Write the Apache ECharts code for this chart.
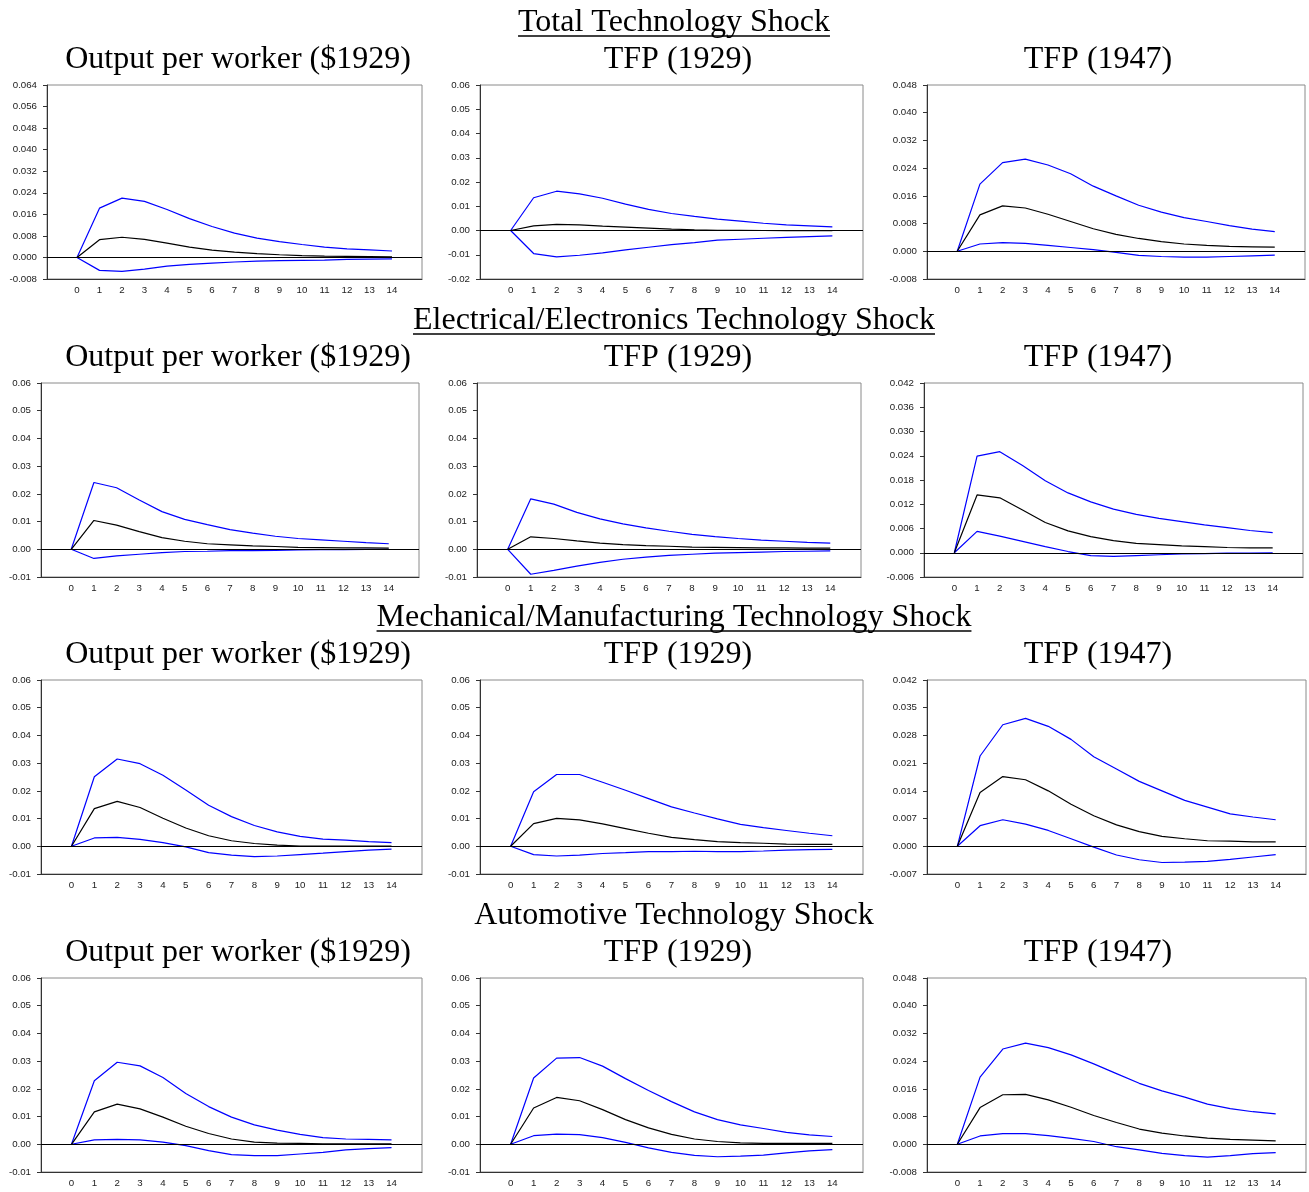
<!DOCTYPE html>
<html>
<head>
<meta charset="utf-8">
<script src="https://cdn.jsdelivr.net/npm/echarts@6/dist/echarts.min.js"></script>
<style>
html,body{margin:0;padding:0;background:#fff;}
#c{width:1309px;height:1192px;}
</style>
</head>
<body>
<div id="c"></div>
<script>
// ---------- DATA ----------
const steps = [0,1,2,3,4,5,6,7,8,9,10,11,12,13,14];

const shockTitles = ["Total Technology Shock","Electrical/Electronics Technology Shock","Mechanical/Manufacturing Technology Shock","Automotive Technology Shock"];
const shockUnderlined = [true, true, true, false];
const panelTitles = ["Output per worker ($1929)","TFP (1929)","TFP (1947)"];

// y-axis tick settings per panel (row-major)
const yMins      = [-0.008,-0.02,-0.008, -0.01,-0.01,-0.006, -0.01,-0.01,-0.007, -0.01,-0.01,-0.008];
const yMaxs      = [ 0.064, 0.06, 0.048,  0.06, 0.06, 0.042,  0.06, 0.06, 0.042,  0.06, 0.06, 0.048];
const yIntervals = [ 0.008, 0.01, 0.008,  0.01, 0.01, 0.006,  0.01, 0.01, 0.007,  0.01, 0.01, 0.008];
const yDecimals  = [3,2,3, 2,2,3, 2,2,3, 2,2,3];

// Total technology shock
const totOutUp  = [0,0.0183,0.0220,0.0208,0.0178,0.0144,0.0115,0.0090,0.0072,0.0059,0.0048,0.0038,0.0032,0.0028,0.0024];
const totOutMid = [0,0.0066,0.0075,0.0067,0.0053,0.0038,0.0027,0.0020,0.0014,0.0010,0.0007,0.0005,0.0004,0.0003,0.0002];
const totOutLo  = [0,-0.0048,-0.0052,-0.0043,-0.0032,-0.0026,-0.0021,-0.0017,-0.0014,-0.0012,-0.0011,-0.0010,-0.0007,-0.0006,-0.0005];
const totT29Up  = [0,0.0135,0.0162,0.0151,0.0133,0.0109,0.0087,0.0070,0.0058,0.0047,0.0039,0.0030,0.0023,0.0019,0.0015];
const totT29Mid = [0,0.0019,0.0025,0.0023,0.0018,0.0014,0.0010,0.0006,0.0003,0.0001,0.0001,0.0000,-0.0001,-0.0001,-0.0001];
const totT29Lo  = [0,-0.0095,-0.0109,-0.0102,-0.0092,-0.0080,-0.0069,-0.0058,-0.0050,-0.0040,-0.0036,-0.0032,-0.0028,-0.0025,-0.0022];
const totT47Up  = [0,0.0194,0.0256,0.0266,0.0249,0.0224,0.0188,0.0160,0.0133,0.0113,0.0097,0.0086,0.0074,0.0064,0.0057];
const totT47Mid = [0,0.0105,0.0131,0.0125,0.0107,0.0086,0.0065,0.0049,0.0037,0.0028,0.0021,0.0017,0.0014,0.0013,0.0012];
const totT47Lo  = [0,0.0021,0.0025,0.0023,0.0017,0.0011,0.0005,-0.0003,-0.0012,-0.0015,-0.0017,-0.0017,-0.0015,-0.0013,-0.0011];

// Electrical / electronics
const eleOutUp  = [0,0.0241,0.0222,0.0178,0.0136,0.0108,0.0089,0.0071,0.0058,0.0047,0.0039,0.0034,0.0029,0.0024,0.0020];
const eleOutMid = [0,0.0104,0.0087,0.0064,0.0042,0.0029,0.0020,0.0016,0.0012,0.0010,0.0007,0.0006,0.0005,0.0005,0.0004];
const eleOutLo  = [0,-0.0033,-0.0024,-0.0018,-0.0012,-0.0008,-0.0007,-0.0005,-0.0005,-0.0004,-0.0002,-0.0001,-0.0001,0.0000,0.0000];
const eleT29Up  = [0,0.0182,0.0163,0.0133,0.0110,0.0092,0.0077,0.0065,0.0054,0.0046,0.0039,0.0033,0.0029,0.0025,0.0022];
const eleT29Mid = [0,0.0045,0.0039,0.0030,0.0022,0.0017,0.0013,0.0011,0.0008,0.0007,0.0006,0.0005,0.0005,0.0004,0.0004];
const eleT29Lo  = [0,-0.0090,-0.0076,-0.0061,-0.0047,-0.0036,-0.0028,-0.0022,-0.0018,-0.0014,-0.0012,-0.0010,-0.0008,-0.0007,-0.0006];
const eleT47Up  = [0,0.0239,0.0250,0.0216,0.0178,0.0148,0.0126,0.0108,0.0095,0.0085,0.0077,0.0069,0.0062,0.0055,0.0050];
const eleT47Mid = [0,0.0143,0.0136,0.0106,0.0075,0.0054,0.0040,0.0030,0.0023,0.0020,0.0017,0.0015,0.0013,0.0012,0.0012];
const eleT47Lo  = [0,0.0053,0.0041,0.0028,0.0015,0.0003,-0.0007,-0.0009,-0.0007,-0.0005,-0.0003,-0.0002,-0.0001,-0.0001,0.0000];

// Mechanical / manufacturing
const mecOutUp  = [0,0.0251,0.0315,0.0298,0.0256,0.0203,0.0148,0.0107,0.0075,0.0052,0.0036,0.0026,0.0022,0.0017,0.0013];
const mecOutMid = [0,0.0136,0.0162,0.0140,0.0101,0.0066,0.0038,0.0020,0.0010,0.0004,0.0001,0.0001,0.0001,0.0001,0.0001];
const mecOutLo  = [0,0.0030,0.0032,0.0025,0.0013,-0.0002,-0.0023,-0.0032,-0.0037,-0.0035,-0.0030,-0.0025,-0.0019,-0.0014,-0.0010];
const mecT29Up  = [0,0.0197,0.0259,0.0259,0.0231,0.0202,0.0172,0.0142,0.0120,0.0099,0.0079,0.0067,0.0057,0.0047,0.0038];
const mecT29Mid = [0,0.0082,0.0101,0.0095,0.0081,0.0064,0.0047,0.0032,0.0024,0.0017,0.0013,0.0011,0.0008,0.0007,0.0007];
const mecT29Lo  = [0,-0.0030,-0.0035,-0.0032,-0.0026,-0.0023,-0.0019,-0.0019,-0.0018,-0.0019,-0.0019,-0.0017,-0.0014,-0.0012,-0.0011];
const mecT47Up  = [0,0.0228,0.0307,0.0323,0.0303,0.0270,0.0226,0.0195,0.0164,0.0140,0.0116,0.0099,0.0082,0.0074,0.0067];
const mecT47Mid = [0,0.0136,0.0176,0.0168,0.0140,0.0106,0.0077,0.0054,0.0037,0.0025,0.0019,0.0014,0.0013,0.0011,0.0011];
const mecT47Lo  = [0,0.0052,0.0067,0.0056,0.0040,0.0019,-0.0002,-0.0022,-0.0034,-0.0041,-0.0040,-0.0038,-0.0033,-0.0027,-0.0021];

// Automotive
const autOutUp  = [0,0.0229,0.0296,0.0283,0.0241,0.0183,0.0136,0.0098,0.0070,0.0051,0.0036,0.0024,0.0019,0.0018,0.0016];
const autOutMid = [0,0.0117,0.0145,0.0128,0.0098,0.0065,0.0039,0.0019,0.0008,0.0004,0.0003,0.0002,0.0002,0.0002,0.0002];
const autOutLo  = [0,0.0016,0.0018,0.0016,0.0008,-0.0005,-0.0023,-0.0037,-0.0041,-0.0041,-0.0035,-0.0029,-0.0020,-0.0016,-0.0012];
const autT29Up  = [0,0.0239,0.0311,0.0313,0.0282,0.0237,0.0194,0.0154,0.0117,0.0089,0.0070,0.0057,0.0043,0.0034,0.0028];
const autT29Mid = [0,0.0131,0.0169,0.0157,0.0125,0.0089,0.0059,0.0036,0.0019,0.0010,0.0005,0.0003,0.0003,0.0003,0.0003];
const autT29Lo  = [0,0.0031,0.0037,0.0035,0.0024,0.0007,-0.0013,-0.0029,-0.0040,-0.0045,-0.0043,-0.0039,-0.0031,-0.0024,-0.0019];
const autT47Up  = [0,0.0194,0.0275,0.0292,0.0279,0.0258,0.0232,0.0204,0.0176,0.0154,0.0136,0.0116,0.0103,0.0094,0.0088];
const autT47Mid = [0,0.0106,0.0143,0.0144,0.0128,0.0107,0.0083,0.0063,0.0044,0.0032,0.0024,0.0018,0.0014,0.0012,0.0010];
const autT47Lo  = [0,0.0024,0.0031,0.0031,0.0025,0.0017,0.0008,-0.0007,-0.0016,-0.0026,-0.0033,-0.0037,-0.0033,-0.0027,-0.0024];

const panelBands = [
  [totOutUp,totOutMid,totOutLo],[totT29Up,totT29Mid,totT29Lo],[totT47Up,totT47Mid,totT47Lo],
  [eleOutUp,eleOutMid,eleOutLo],[eleT29Up,eleT29Mid,eleT29Lo],[eleT47Up,eleT47Mid,eleT47Lo],
  [mecOutUp,mecOutMid,mecOutLo],[mecT29Up,mecT29Mid,mecT29Lo],[mecT47Up,mecT47Mid,mecT47Lo],
  [autOutUp,autOutMid,autOutLo],[autT29Up,autT29Mid,autT29Lo],[autT47Up,autT47Mid,autT47Lo]
];

// ---------- LAYOUT ----------
const rowTops = [85, 383, 680, 978];
const rowHeights = [194, 194, 194, 194];
const colBounds = [
  [[47,422],[480,863],[927,1305]],
  [[41,419],[477,861],[924,1303]],
  [[41,422],[480,863],[927,1306]],
  [[41,422],[480,863],[927,1306]]
];
const rowTitleY = [23, 321, 618, 916];
const subTitleY = [60, 358, 655, 953];
const subTitleX = [238, 678, 1098];

const chart = echarts.init(document.getElementById('c'), null, {renderer:'canvas'});

const grid = [], xAxis = [], yAxis = [], series = [], graphic = [];
const titleFont = '"Liberation Serif","Times New Roman",serif';
const labelFont = '"Liberation Sans",Arial,sans-serif';

const mctx = document.createElement('canvas').getContext('2d');
mctx.font = '32px ' + titleFont;

for (let r = 0; r < 4; r++) {
  graphic.push({type:'text', x:674, y:rowTitleY[r], style:{text:shockTitles[r], font:'32px '+titleFont, fill:'#000', textAlign:'center', textVerticalAlign:'middle'}});
  if (shockUnderlined[r]) {
    const w = mctx.measureText(shockTitles[r]).width;
    graphic.push({type:'line', shape:{x1:674-w/2, y1:rowTitleY[r]+13, x2:674+w/2, y2:rowTitleY[r]+13}, style:{stroke:'#000', lineWidth:1.5}});
  }
  for (let c = 0; c < 3; c++) {
    graphic.push({type:'text', x:subTitleX[c], y:subTitleY[r], style:{text:panelTitles[c], font:'32px '+titleFont, fill:'#000', textAlign:'center', textVerticalAlign:'middle'}});
    const i = r*3 + c;
    const [L, R] = colBounds[r][c];
    grid.push({left:L, top:rowTops[r], width:R-L, height:rowHeights[r], show:true, borderColor:'#8a8a8a', borderWidth:1, backgroundColor:'transparent'});
    xAxis.push({
      type:'value', gridIndex:i, min:-4/3, max:14+4/3,
      axisLine:{onZero:false, lineStyle:{color:'#333', width:1}},
      axisTick:{show:false},
      splitLine:{show:false},
      axisLabel:{customValues:steps, fontSize:9.7, fontFamily:labelFont, color:'#222', margin:6}
    });
    const dec = yDecimals[i];
    yAxis.push({
      type:'value', gridIndex:i, min:yMins[i], max:yMaxs[i], interval:yIntervals[i],
      axisLine:{show:true, onZero:false, lineStyle:{color:'#333', width:1}},
      axisTick:{show:true, inside:false, length:4, lineStyle:{color:'#333'}},
      splitLine:{show:false},
      axisLabel:{fontSize:9.7, fontFamily:labelFont, color:'#222', margin:10,
        formatter: v => (Math.abs(v) < 1e-9 ? 0 : v).toFixed(dec)}
    });
    const [up, mid, lo] = panelBands[i];
    const mk = arr => steps.map((s, k) => [s, arr[k]]);
    series.push({type:'line', xAxisIndex:i, yAxisIndex:i, data:mk(up), showSymbol:false, lineStyle:{color:'#0000ff', width:1.2}, itemStyle:{color:'#0000ff'}, silent:true, animation:false});
    series.push({type:'line', xAxisIndex:i, yAxisIndex:i, data:mk(lo), showSymbol:false, lineStyle:{color:'#0000ff', width:1.2}, itemStyle:{color:'#0000ff'}, silent:true, animation:false});
    series.push({type:'line', xAxisIndex:i, yAxisIndex:i, data:mk(mid), showSymbol:false, lineStyle:{color:'#000', width:1.2}, itemStyle:{color:'#000'}, silent:true, animation:false,
      markLine:{silent:true, symbol:['none','none'], label:{show:false}, lineStyle:{color:'#000', width:1, type:'solid'}, data:[{yAxis:0}], animation:false}});
  }
}

chart.setOption({
  backgroundColor:'#fff',
  animation:false,
  grid, xAxis, yAxis, series, graphic
});
</script>
</body>
</html>
